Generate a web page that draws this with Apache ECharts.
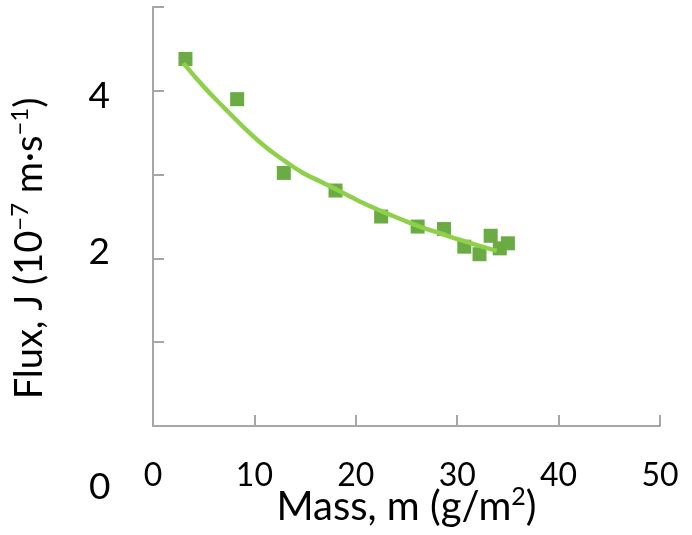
<!DOCTYPE html>
<html>
<head>
<meta charset="utf-8">
<script src="https://cdn.jsdelivr.net/npm/echarts@6/dist/echarts.min.js"></script>
<style>html,body{margin:0;padding:0;background:#fff}#c{width:692px;height:535px}</style>
</head>
<body>
<div id="c"></div>
<script>
// Measured points: mass (g/m2) and flux (1e-7 m/s)
const massValues = [3.2, 8.3, 12.9, 18.0, 22.5, 26.1, 28.7, 30.7, 32.2, 33.3, 34.2, 35.0];
const fluxValues = [4.38, 3.90, 3.02, 2.81, 2.50, 2.38, 2.35, 2.14, 2.05, 2.27, 2.12, 2.18];
// Fitted trend line
const fitMass = [3.0, 5.0, 7.0, 8.9, 10.9, 12.9, 14.8, 16.8, 19.1, 20.4, 22.4, 24.4, 26.3, 28.3, 30.3, 32.2, 33.9];
const fitFlux = [4.33, 4.05, 3.80, 3.57, 3.35, 3.17, 3.02, 2.90, 2.76, 2.68, 2.57, 2.47, 2.38, 2.30, 2.22, 2.15, 2.09];
// Axis ticks
const xTicks = [0, 10, 20, 30, 40, 50];
const yLabeled = [2, 4];
const strayZeroLabel = '0';

const FONT = 'Lato';
const chart = echarts.init(document.getElementById('c'));
chart.setOption({
  animation: false,
  backgroundColor: '#fff',
  grid: { left: 153, right: 32, top: 7, bottom: 109, containLabel: false, outerBoundsMode: 'none' },
  xAxis: {
    type: 'value', min: xTicks[0], max: xTicks[xTicks.length - 1], interval: 10,
    axisLine: { lineStyle: { color: '#a6a6a6', width: 2 } },
    axisTick: { inside: true, length: 11, lineStyle: { color: '#a6a6a6', width: 2 } },
    splitLine: { show: false },
    axisLabel: { margin: 34, color: '#000', fontFamily: FONT, fontSize: 32 },
    name: '{n|Mass, m (g/m}{s|2}{n|)}',
    nameLocation: 'middle', nameGap: 58, nameMoveOverlap: false,
    nameTextStyle: {
      rich: {
        n: { fontFamily: FONT, fontSize: 40, color: '#000', lineHeight: 46 },
        s: { fontFamily: FONT, fontSize: 25, color: '#000', lineHeight: 46, verticalAlign: 'top' }
      }
    }
  },
  yAxis: {
    type: 'value', min: 0, max: 5, interval: 1,
    axisLine: { show: true, lineStyle: { color: '#a6a6a6', width: 2 } },
    axisTick: { show: true, inside: true, length: 11, lineStyle: { color: '#a6a6a6', width: 2 } },
    splitLine: { show: false },
    axisLabel: {
      margin: 43, color: '#000', fontFamily: FONT, fontSize: 37,
      formatter: v => (yLabeled.indexOf(v) >= 0 ? (v > 3 ? '{lo|' + v + '}' : '{hi|' + v + '}') : ''),
      rich: {
        lo: { fontFamily: FONT, fontSize: 37, color: '#000', padding: [11, 0, 0, 0] },
        hi: { fontFamily: FONT, fontSize: 37, color: '#000', padding: [0, 0, 12, 0] }
      }
    },
    name: '{n|Flux, J (10}{s|\u22127}{n| m\u00b7s}{s|\u22121}{n|)}',
    nameLocation: 'middle', nameGap: 101, nameRotate: 90, nameMoveOverlap: false,
    nameTextStyle: {
      padding: [0, 64, 0, 0],
      rich: {
        n: { fontFamily: FONT, fontSize: 38, color: '#000', lineHeight: 44 },
        s: { fontFamily: FONT, fontSize: 24, color: '#000', lineHeight: 44, verticalAlign: 'top' }
      }
    }
  },
  graphic: [{
    type: 'text', left: 89, top: 469,
    style: { text: strayZeroLabel, fontFamily: FONT, fontSize: 37, fill: '#000' }
  }],
  series: [
    {
      type: 'line', data: fitMass.map((m, i) => [m, fitFlux[i]]),
      smooth: true, showSymbol: false, symbol: 'none',
      lineStyle: { color: '#8fd04a', width: 4.5 }, z: 3
    },
    {
      type: 'scatter', data: massValues.map((m, i) => [m, fluxValues[i]]),
      symbol: 'rect', symbolSize: 14,
      itemStyle: { color: '#6aab44', opacity: 1 }, z: 2
    }
  ]
});
</script>
</body>
</html>
